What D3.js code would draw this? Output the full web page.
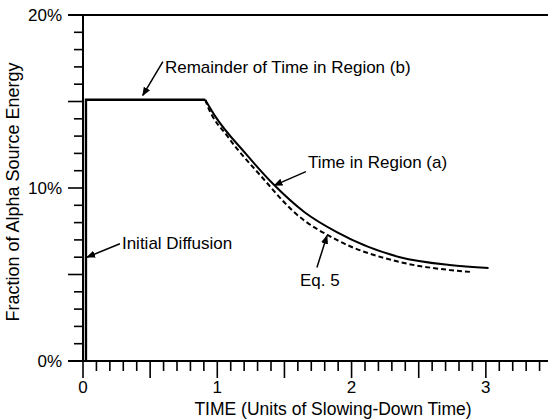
<!DOCTYPE html>
<html lang="en">
<head>
  <meta charset="UTF-8">
  <title>Fraction of Alpha Source Energy</title>
  <script src="https://d3js.org/d3.v7.min.js"></script>
  <style>
    body { margin: 0; background: #fff; }
    svg text { font-family: "Liberation Sans", Arial, Helvetica, sans-serif; fill: #000; }
  </style>
</head>
<body>
  <div id="chart"></div>

  <script>
    // data (time in slowing-down units, percent of source energy)
    var diffusionTime = [0.022, 0.022, 0.91];
    var diffusionValue = [0, 15.1, 15.1];

    var regionATime = [0.91, 0.98, 1.21, 1.42, 1.65, 1.89, 2.36, 2.73, 3.02];
    var regionAValue = [15.1, 14.2, 12.0, 10.2, 8.6, 7.45, 6.0, 5.55, 5.38];

    var eq5Time = [0.91, 0.93, 1.08, 1.33, 1.58, 1.89, 2.36, 2.73, 2.9];
    var eq5Value = [15.1, 14.7, 12.95, 10.65, 8.55, 7.0, 5.72, 5.26, 5.14];

    var xTickLabels = [0, 1, 2, 3];
    var yTickLabels = [0, 10, 20];

    var width = 548, height = 420;
    var margin = {top: 15, left: 83, bottom: 59};

    var svg = d3.select("#chart").append("svg")
      .attr("width", width)
      .attr("height", height);

    var x = d3.scaleLinear().domain([0, 3.5]).range([margin.left, margin.left + 470]);
    var y = d3.scaleLinear().domain([0, 20]).range([height - margin.bottom, margin.top]);

    svg.append("defs").append("marker")
      .attr("id", "arrow")
      .attr("viewBox", "0 0 10 10")
      .attr("refX", 9).attr("refY", 5)
      .attr("markerWidth", 9).attr("markerHeight", 9)
      .attr("markerUnits", "userSpaceOnUse")
      .attr("orient", "auto")
      .append("path")
      .attr("d", "M0,1 L10,5 L0,9 Z")
      .attr("fill", "#000");

    // y ticks, every 1%, longer every 5%
    var yTicks = d3.range(0, 21);
    svg.append("g").selectAll("line")
      .data(yTicks)
      .enter().append("line")
      .attr("x1", function(d) { return x(0) - (d % 5 === 0 ? 15 : 9); })
      .attr("x2", x(0))
      .attr("y1", function(d) { return y(d); })
      .attr("y2", function(d) { return y(d); })
      .attr("stroke", "#000")
      .attr("stroke-width", 1.6);

    // x ticks, every 0.1, longer every 0.5
    var xTicks = d3.range(0, 35).map(function(i) { return i / 10; });
    svg.append("g").selectAll("line")
      .data(xTicks)
      .enter().append("line")
      .attr("x1", function(d) { return x(d); })
      .attr("x2", function(d) { return x(d); })
      .attr("y1", y(0))
      .attr("y2", function(d, i) { return y(0) + (i % 5 === 0 ? 17 : 10); })
      .attr("stroke", "#000")
      .attr("stroke-width", 1.6);

    // axis lines and top frame
    svg.append("line")
      .attr("x1", x(0)).attr("x2", x(0))
      .attr("y1", y(20)).attr("y2", y(0))
      .attr("stroke", "#000").attr("stroke-width", 2);
    svg.append("line")
      .attr("x1", x(0) - 15).attr("x2", width)
      .attr("y1", y(0)).attr("y2", y(0))
      .attr("stroke", "#000").attr("stroke-width", 2);
    svg.append("line")
      .attr("x1", x(0) - 15).attr("x2", width)
      .attr("y1", y(20)).attr("y2", y(20))
      .attr("stroke", "#000").attr("stroke-width", 2);

    // tick labels
    svg.append("g").selectAll("text")
      .data(yTickLabels)
      .enter().append("text")
      .attr("x", x(0) - 21)
      .attr("y", function(d) { return y(d); })
      .attr("dy", "0.35em")
      .attr("text-anchor", "end")
      .attr("font-size", 17)
      .text(function(d) { return d + "%"; });

    svg.append("g").selectAll("text")
      .data(xTickLabels)
      .enter().append("text")
      .attr("x", function(d) { return x(d); })
      .attr("y", 393)
      .attr("text-anchor", "middle")
      .attr("font-size", 17)
      .text(function(d) { return d; });

    // axis titles
    svg.append("text")
      .attr("x", 333)
      .attr("y", 415)
      .attr("text-anchor", "middle")
      .attr("font-size", 17.5)
      .text("TIME (Units of Slowing-Down Time)");

    svg.append("text")
      .attr("transform", "translate(13,192) rotate(-90)")
      .attr("dy", "0.35em")
      .attr("text-anchor", "middle")
      .attr("font-size", 18)
      .text("Fraction of Alpha Source Energy");

    // curves
    function pairs(ts, vs) { return ts.map(function(t, i) { return [t, vs[i]]; }); }

    var straight = d3.line()
      .x(function(d) { return x(d[0]); })
      .y(function(d) { return y(d[1]); });

    var smooth = d3.line()
      .curve(d3.curveMonotoneX)
      .x(function(d) { return x(d[0]); })
      .y(function(d) { return y(d[1]); });

    svg.append("path")
      .attr("d", straight(pairs(diffusionTime, diffusionValue)))
      .attr("fill", "none").attr("stroke", "#000").attr("stroke-width", 2.4);

    svg.append("path")
      .attr("d", smooth(pairs(regionATime, regionAValue)))
      .attr("fill", "none").attr("stroke", "#000").attr("stroke-width", 2);

    svg.append("path")
      .attr("d", smooth(pairs(eq5Time, eq5Value)))
      .attr("fill", "none").attr("stroke", "#000").attr("stroke-width", 2)
      .attr("stroke-dasharray", "5,3");

    // annotations: text position and arrow (tail, tip) in data units
    var notes = [
      {text: "Remainder of Time in Region (b)", at: [0.61, 17.0], from: [0.595, 17.3], to: [0.445, 15.35]},
      {text: "Time in Region (a)", at: [1.675, 11.5], from: [1.66, 10.95], to: [1.425, 10.15]},
      {text: "Initial Diffusion", at: [0.29, 6.82], from: [0.275, 6.78], to: [0.03, 6.0]},
      {text: "Eq. 5", at: [1.616, 4.68], from: [1.742, 5.4], to: [1.817, 7.25]}
    ];

    var note = svg.append("g").selectAll("g")
      .data(notes)
      .enter().append("g");

    note.append("line")
      .attr("x1", function(d) { return x(d.from[0]); })
      .attr("y1", function(d) { return y(d.from[1]); })
      .attr("x2", function(d) { return x(d.to[0]); })
      .attr("y2", function(d) { return y(d.to[1]); })
      .attr("stroke", "#000")
      .attr("stroke-width", 1.5)
      .attr("marker-end", "url(#arrow)");

    note.append("text")
      .attr("x", function(d) { return x(d.at[0]); })
      .attr("y", function(d) { return y(d.at[1]); })
      .attr("dy", "0.35em")
      .attr("font-size", 17)
      .text(function(d) { return d.text; });
  </script>
</body>
</html>
